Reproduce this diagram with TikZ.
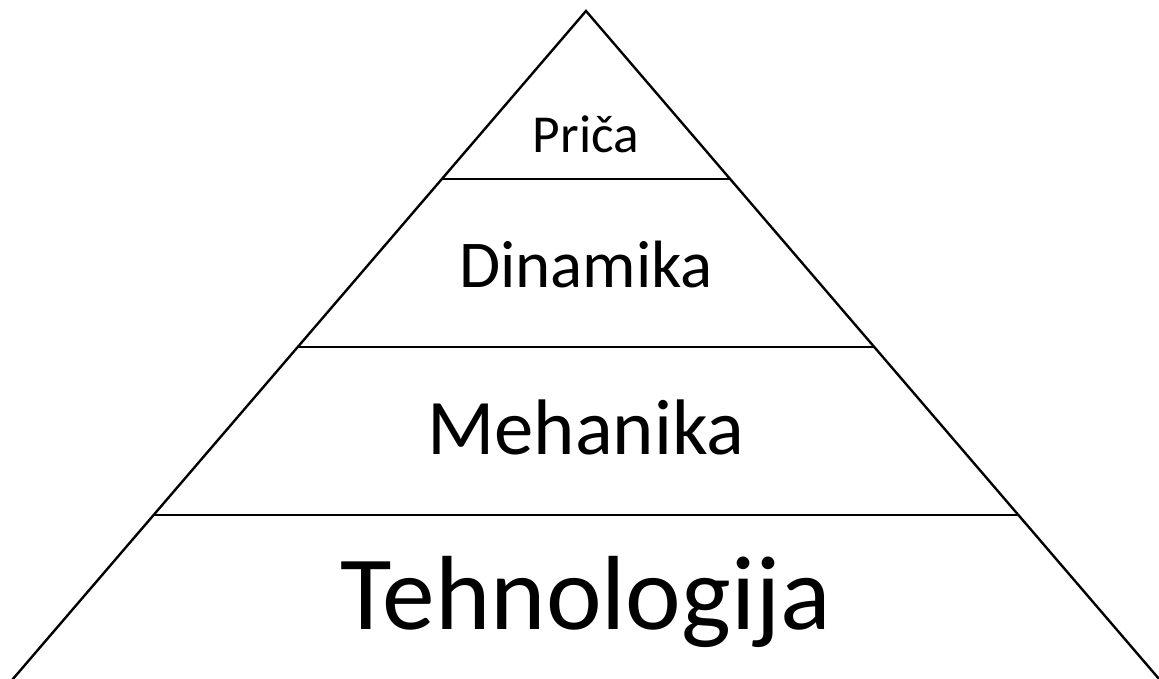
\documentclass[tikz,border=0pt]{standalone}
\usepackage{fontspec}
\setmainfont{Carlito}
\usepackage{tikz}
\usetikzlibrary{calc}

\begin{document}
\begin{tikzpicture}[
    edge/.style={draw, line width=1.7pt},
    tier/.style={anchor=base, inner sep=0pt}
]

\useasboundingbox (0,0) rectangle (28.975,16.975);

\coordinate (apex) at (14.65,16.7);
\coordinate (left) at (0.2375,-0.1);
\coordinate (right) at (29.0625,-0.1);

% sides of the pyramid
\draw[edge] (left) -- (apex) -- (right);

% dividing lines
\draw[edge] ($(apex)!0.25!(left)$) -- ($(apex)!0.25!(right)$);
\draw[edge] ($(apex)!0.5!(left)$) -- ($(apex)!0.5!(right)$);
\draw[edge] ($(apex)!0.75!(left)$) -- ($(apex)!0.75!(right)$);

\node[tier, font=\fontsize{38}{46}\selectfont] (prica) at (14.65,13.15) {Priča};
\node[tier, font=\fontsize{47.6}{57}\selectfont] (dinamika) at (14.65,9.775) {Dinamika};
\node[tier, font=\fontsize{56}{67}\selectfont] (mehanika) at (14.65,5.6) {Mehanika};
\node[tier, font=\fontsize{75}{90}\selectfont] (tehnologija) at (14.65,1.225) {Tehnologija};

\end{tikzpicture}
\end{document}
